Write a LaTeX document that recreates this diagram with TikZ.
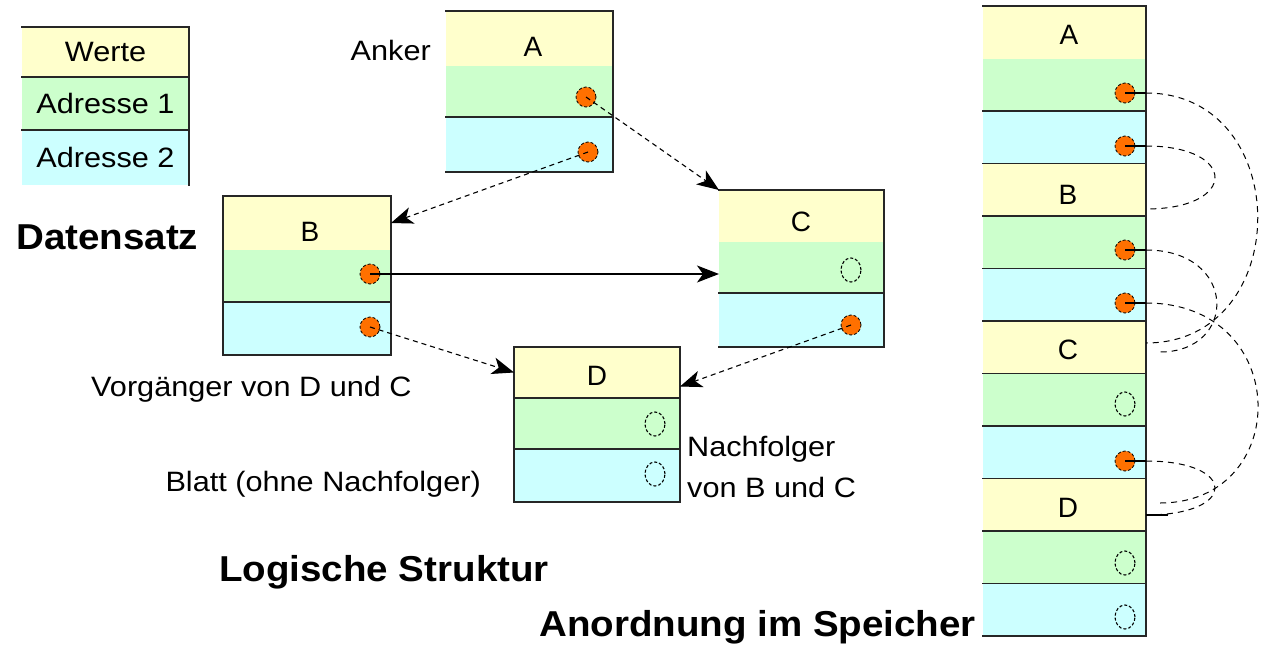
\documentclass[tikz,border=0pt]{standalone}
\usepackage{fontspec}
\setmainfont{Liberation Sans}
\usetikzlibrary{arrows.meta,calc,shapes.geometric}
\definecolor{cyel}{RGB}{255,255,204}
\definecolor{cgrn}{RGB}{204,255,204}
\definecolor{ccyn}{RGB}{204,255,255}
\definecolor{corg}{RGB}{255,112,0}
\newcommand{\wn}[1]{\scalebox{1.095}[1]{#1}}
\newcommand{\wb}[1]{\scalebox{1.07}[1]{#1}}
\tikzset{
  cell/.style={rectangle,inner sep=0pt,outer sep=0pt,anchor=north west,draw=none},
  edge/.style={line width=1.8pt,draw=black!85,line cap=rect},
  ptr/.style={circle,fill=corg,draw=black,densely dashed,line width=0.8pt,minimum size=20pt,inner sep=0pt},
  nul/.style={ellipse,draw=black,dash pattern=on 3pt off 2pt,line width=1.1pt,minimum width=20pt,minimum height=24pt,inner sep=0pt},
  lbl/.style={inner sep=0pt,font=\fontsize{28}{41}\selectfont},
  big/.style={inner sep=0pt,font=\bfseries\fontsize{36}{40}\selectfont},
  link/.style={line width=1.1pt,dash pattern=on 5pt off 4pt},
  slink/.style={line width=1.3pt},
  tip/.style={-{Stealth[length=22pt,width=17pt,inset=6pt]}},
  mlink/.style={line width=1pt,dash pattern=on 6pt off 5pt},
}
\newcommand{\tribox}[7]{%
  \node[cell,fill=cyel,minimum width={(#3-#2)*1pt},minimum height={(#5-#4)*1pt}] (#1v) at (#2,#4) {};
  \node[cell,fill=cgrn,minimum width={(#3-#2)*1pt},minimum height={(#6-#5)*1pt}] (#1a) at (#2,#5) {};
  \node[cell,fill=ccyn,minimum width={(#3-#2)*1pt},minimum height={(#7-#6)*1pt}] (#1b) at (#2,#6) {};
}
\begin{document}
\begin{tikzpicture}[x=1pt,y=-1pt]
\useasboundingbox[fill=white] (0,0) rectangle (1261,645);

% legend
\tribox{L}{22}{189}{27}{77}{130}{185}
\draw[edge] (Lv.north west) -- (Lv.north east) -- (Lb.south east);
\draw[edge] (Lv.south west) -- (Lv.south east);
\draw[edge] (La.south west) -- (La.south east);
\node[lbl] (tw) at (Lv) {\wn{Werte}};
\node[lbl] (ta1) at (La) {\wn{Adresse 1}};
\node[lbl] (ta2) at (Lb) {\wn{Adresse 2}};

% logical boxes
\tribox{A}{446}{613}{11}{66}{117}{172}
\draw[edge] (Av.north west) -- (Av.north east) -- (Ab.south east) -- (Ab.south west);
\draw[edge] (Aa.south west) -- (Aa.south east);

\tribox{B}{223}{391}{196}{250}{302}{355}
\draw[edge] (Bv.north west) rectangle (Bb.south east);
\draw[edge] (Ba.south west) -- (Ba.south east);

\tribox{C}{719}{884}{190}{242}{293}{347}
\draw[edge] (Cv.north west) -- (Cv.north east) -- (Cb.south east) -- (Cb.south west);
\draw[edge] (Ca.south west) -- (Ca.south east);

\tribox{D}{514}{680}{347}{398}{449}{502}
\draw[edge] (Dv.north west) rectangle (Db.south east);
\draw[edge] (Dv.south west) -- (Dv.south east);
\draw[edge] (Da.south west) -- (Da.south east);

\node[lbl] (tA) at (533,47) {A};
\node[lbl] (tB) at (310,232) {B};
\node[lbl] (tC) at (801,222) {C};
\node[lbl] (tD) at (597,376) {D};

\node[ptr] (pA1) at (586,97) {};
\node[ptr] (pA2) at (588,152) {};
\node[ptr] (pB1) at (370,274) {};
\node[ptr] (pB2) at (370,327) {};
\node[ptr] (pC2) at (851,325) {};
\node[nul] (nC1) at (851,270) {};
\node[nul] (nD1) at (655,424) {};
\node[nul] (nD2) at (655,474) {};

\coordinate (dIn) at ($(Dv.east)!0.55!(Dv.south east)$);
\draw[link,tip] (pA1.center) -- (Cv.north west);
\draw[link,tip] (pA2.center) -- (Bv.east);
\draw[slink,tip] (pB1.center) -- (pB1 -| Ca.west);
\draw[link,tip] (pB2.center) -- (Dv.west);
\draw[link,tip] (pC2.center) -- (dIn);

% texts
\node[lbl,anchor=east] (anker) at (431,50) {\wn{Anker}};
\node[big,anchor=west] (dsatz) at (16,237) {\wb{Datensatz}};
\node[lbl,anchor=west] (vorg) at (91,389) {\wn{Vorgänger von D und C}};
\node[lbl,anchor=east] (blatt) at (481,484) {\wn{Blatt (ohne Nachfolger)}};
\node[lbl,anchor=west,align=left] (nachf) at (687,467) {\wn{Nachfolger}\\\wn{von B und C}};
\node[big,anchor=west] (logs) at (219,572) {\wb{Logische Struktur}};
\node[big,anchor=east] (anord) at (976,627) {\wb{Anordnung im Speicher}};

% memory column
\tribox{MA}{983}{1146}{6}{58.5}{111}{163.5}
\tribox{MB}{983}{1146}{163.5}{216}{268.5}{321}
\tribox{MC}{983}{1146}{321}{373.5}{426}{478.5}
\tribox{MD}{983}{1146}{478.5}{531}{583.5}{636}
\draw[edge] (MAv.north west) -- (MAv.north east) -- (MDb.south east) -- (MDb.south west);
\foreach \r in {MAa,MAb,MBv,MBa,MBb,MCv,MCa,MCb,MDv,MDa}
  \draw[edge] (\r.south west) -- (\r.south east);
\node[lbl] (mtA) at (1069,35) {A};
\node[lbl] (mtB) at (1068,195) {B};
\node[lbl] (mtC) at (1068,350) {C};
\node[lbl] (mtD) at (1068,508) {D};

\node[ptr] (mA1) at (1125,93) {};
\node[ptr] (mA2) at (1125,146) {};
\node[ptr] (mB1) at (1125,250) {};
\node[ptr] (mB2) at (1125,303) {};
\node[ptr] (mC2) at (1125,461) {};
\node[nul] (mnC1) at (1125,404) {};
\node[nul] (mnD1) at (1125,563) {};
\node[nul] (mnD2) at (1125,617) {};

\coordinate (eC1) at (1146,343);
\coordinate (eC2) at (1160,352);
\coordinate (eB) at (1146,209);
\coordinate (eD1) at (1160,503);
\coordinate (eD2) at (1146,515);

\draw[slink] (mA1.center) -- (mA1 -| MAa.east) coordinate (sA1);
\draw[mlink] (sA1) .. controls (1295,93) and (1295,343) .. (eC1);
\draw[slink] (mA2.center) -- (mA2 -| MAb.east) coordinate (sA2);
\draw[mlink] (sA2) .. controls (1238,146) and (1238,209) .. (eB);
\draw[slink] (mB1.center) -- (mB1 -| MBa.east) coordinate (sB1);
\draw[mlink] (sB1) .. controls (1238,250) and (1238,352) .. (eC2);
\draw[slink] (mB2.center) -- (mB2 -| MBb.east) coordinate (sB2);
\draw[mlink] (sB2) .. controls (1293,303) and (1293,503) .. (eD1);
\draw[slink] (mC2.center) -- (mC2 -| MCb.east) coordinate (sC2);
\draw[mlink] (sC2) .. controls (1238,461) and (1238,515) .. (eD2);
\draw[slink] (eD2) -- ++(22,0);
\end{tikzpicture}
\end{document}
